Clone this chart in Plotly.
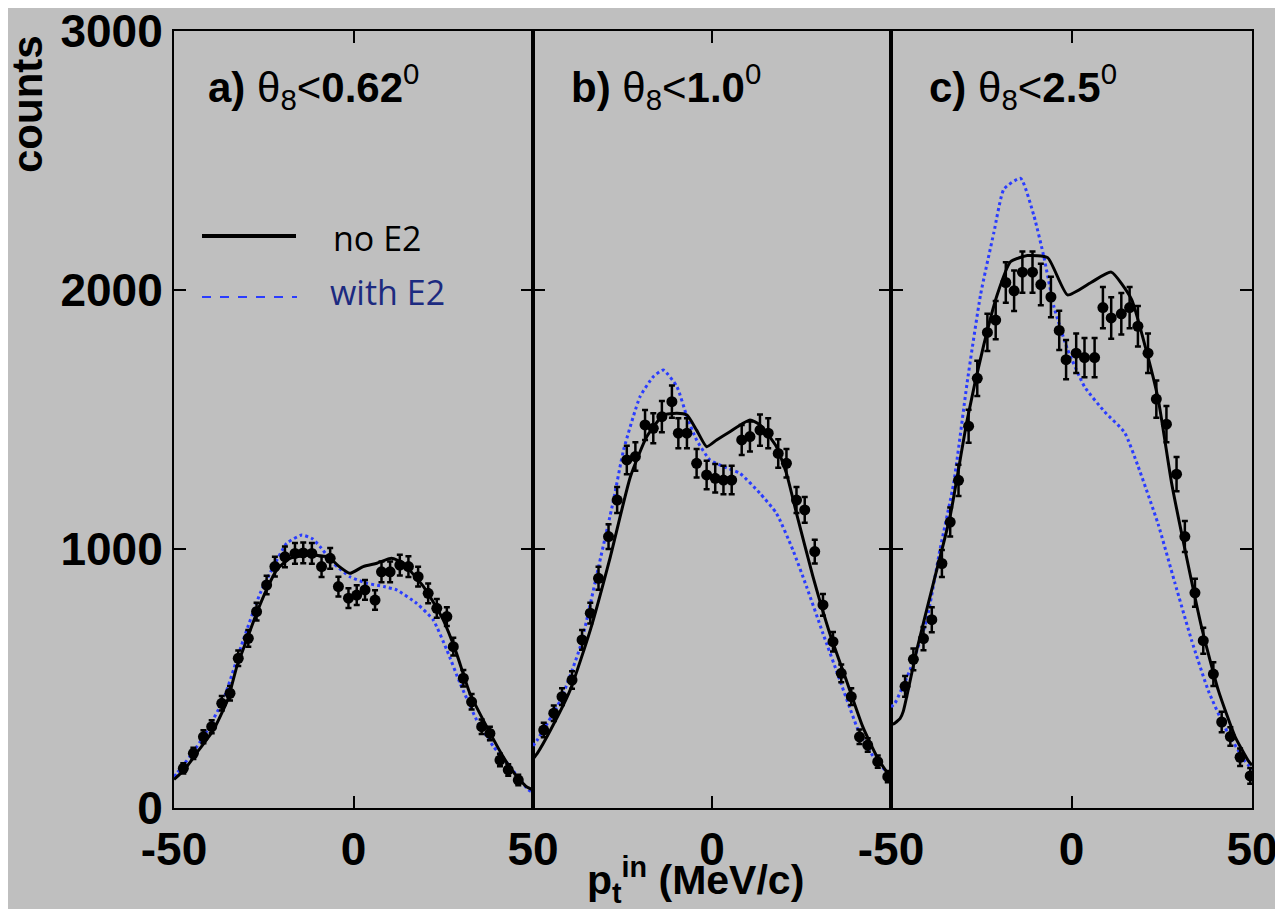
import plotly.graph_objects as go

# ---------------- data ----------------
# panel a) theta_8 < 0.62 deg
a_pt = [-47.4, -44.6, -41.8, -39.5, -36.7, -34.4, -32.1, -29.3, -27.0, -24.2, -21.9, -19.1, -16.3,
        -14.0, -11.6, -8.9, -6.5, -4.2, -1.4, 0.9, 3.2, 6.0, 7.8, 10.2, 12.9, 15.3, 18.0, 20.8,
        23.2, 26.0, 27.8, 30.6, 32.9, 35.7, 38.0, 40.8, 43.1, 45.9]
a_cnt = [153, 211, 275, 314, 404, 443, 578, 655, 758, 861, 932, 970, 983,
         985, 983, 932, 964, 855, 810, 822, 842, 803, 912, 912, 938, 932, 893, 829,
         771, 739, 623, 501, 410, 314, 288, 185, 147, 108]
a_err = [20, 22, 25, 25, 28, 28, 30, 32, 34, 36, 38, 40, 40,
         40, 40, 40, 40, 38, 38, 38, 38, 38, 40, 40, 40, 40, 38, 38,
         36, 36, 34, 32, 30, 28, 26, 24, 22, 20]
a_noE2_pt = [-50, -47, -43, -39, -35, -32.5, -30, -27, -24, -21.4, -17.7, -12, -8, -6.5, -4.2, -1,
             2.7, 6.5, 10.6, 13.9, 16.5, 19.5, 22, 25, 28.7, 32.4, 37.1, 41.7, 45, 48.2, 50]
a_noE2 = [110, 150, 225, 301, 420, 546, 640, 752, 850, 919, 964, 977, 972, 964, 935, 906,
          932, 945, 964, 945, 905, 855, 800, 726, 597, 443, 314, 198, 130, 82, 70]
a_E2_pt = [-50, -49.2, -45.5, -41.8, -36.3, -30.7, -26, -22.3, -18.6, -14.4, -11.5, -9.3, -5.6, -1,
           3.7, 8.4, 12, 17.6, 22.2, 26, 29.7, 34.3, 39, 43.6, 48.7, 50]
a_E2 = [120, 134, 200, 275, 417, 649, 829, 932, 1022, 1054, 1040, 1009, 945, 893,
        868, 855, 842, 790, 726, 610, 481, 340, 237, 160, 70, 60]

# panel b) theta_8 < 1.0 deg
b_pt = [-47.0, -44.2, -41.9, -39.1, -36.3, -34.0, -31.7, -28.9, -26.5, -23.8, -21.4, -18.7, -16.4,
        -14.0, -11.2, -9.4, -7.0, -4.3, -1.5, 0.9, 3.2, 5.5, 8.3, 10.6, 13.4, 15.7, 18.5, 20.8,
        23.6, 25.9, 28.7, 31.0, 33.8, 36.1, 38.9, 41.2, 43.5, 46.3, 49.1]
b_cnt = [301, 366, 430, 494, 649, 752, 887, 1048, 1189, 1344, 1357, 1479, 1466,
         1511, 1569, 1447, 1447, 1331, 1286, 1273, 1266, 1266, 1421, 1434, 1459, 1447, 1369, 1331,
         1189, 1151, 990, 784, 642, 520, 430, 275, 243, 179, 121]
b_err = [28, 30, 32, 34, 38, 40, 44, 48, 50, 55, 55, 58, 58,
         60, 62, 58, 58, 55, 55, 55, 55, 55, 58, 58, 60, 58, 55, 55,
         50, 50, 46, 42, 38, 34, 32, 28, 26, 24, 22]
b_noE2_pt = [-50, -48.8, -45.1, -39.6, -34, -28.4, -22.8, -18.2, -13.6, -9.8, -7, -4.3, -1.5, 1.3,
             5, 10.6, 13.4, 18, 20.8, 23.6, 28.2, 32.9, 37.5, 42.1, 46, 49.1, 50]
b_noE2 = [190, 211, 301, 456, 687, 970, 1279, 1434, 1517, 1524, 1517, 1459, 1395, 1421,
          1453, 1498, 1479, 1395, 1292, 1138, 893, 674, 494, 314, 200, 134, 120]
b_E2_pt = [-50, -48.8, -42.3, -36.8, -32.1, -27.5, -24.7, -20.1, -16.4, -13.6, -9.8, -7, -4.3, -0.6,
           3.2, 7.8, 13.4, 18, 22.6, 26.4, 31, 35.7, 41.2, 45, 49.1, 50]
b_E2 = [240, 263, 417, 623, 906, 1189, 1382, 1588, 1665, 1691, 1627, 1511, 1421, 1344,
        1318, 1292, 1215, 1138, 996, 855, 674, 494, 288, 200, 134, 120]

# panel c) theta_8 < 2.5 deg
c_pt = [-46.1, -43.8, -41.0, -38.7, -35.9, -33.6, -31.3, -28.5, -26.1, -23.3, -21.0, -18.2, -15.9,
        -13.6, -10.8, -8.5, -5.7, -3.4, -1.5, 1.3, 3.6, 6.4, 8.7, 11.0, 13.8, 16.1, 18.4, 21.2,
        23.5, 26.3, 29.1, 31.4, 34.2, 36.5, 39.3, 41.6, 44.0, 46.7, 49.5]
c_cnt = [470, 574, 654, 727, 944, 1104, 1265, 1474, 1659, 1836, 1884, 2029, 1997,
         2069, 2069, 2021, 1973, 1844, 1731, 1756, 1739, 1739, 1932, 1892, 1908, 1932, 1860, 1756,
         1579, 1482, 1289, 1048, 831, 646, 517, 332, 276, 196, 124]
c_err = [40, 42, 45, 48, 52, 56, 60, 64, 68, 72, 74, 78, 78,
         80, 80, 80, 78, 76, 76, 76, 76, 76, 80, 80, 80, 80, 78, 76,
         72, 70, 66, 60, 54, 50, 46, 40, 36, 34, 30]
c_noE2_pt = [-50, -49.4, -47.5, -46.6, -42.8, -38.2, -33.6, -28.9, -24.3, -20.6, -16.9, -12.2, -6.6,
             -1.1, 5.4, 11, 16.6, 20.3, 24, 27.7, 31.4, 36.1, 40.7, 45.3, 49.1, 50]
c_noE2 = [330, 324, 345, 373, 614, 871, 1128, 1498, 1788, 1981, 2109, 2133, 2125,
          1981, 2029, 2069, 1965, 1788, 1579, 1257, 1000, 694, 453, 276, 180, 165]
c_E2_pt = [-50, -48.9, -44.7, -40.1, -36.4, -32.6, -28.9, -25.2, -21.5, -18.7, -14.1, -10.4, -7.6,
           -4.8, -1.1, 3.6, 9.1, 14.7, 18.4, 24, 28.6, 33.3, 37.9, 42.6, 48.1, 50]
c_E2 = [390, 405, 534, 727, 1000, 1257, 1643, 1981, 2222, 2390, 2431, 2286, 2125,
        1932, 1771, 1627, 1531, 1450, 1321, 1096, 871, 646, 453, 308, 180, 150]

panel_labels = ["<b>a)</b> θ<sub>8</sub>&lt;<b>0.62</b><sup>0</sup>",
                "<b>b)</b> θ<sub>8</sub>&lt;<b>1.0</b><sup>0</sup>",
                "<b>c)</b> θ<sub>8</sub>&lt;<b>2.5</b><sup>0</sup>"]
y_ticks = [0, 1000, 2000, 3000]
legend_names = ["no E2", "with E2"]

# ---------------- figure ----------------
# the page body adds an 8px offset; the figure is sized to fill the rest of the window
OFF = 8
W, H = 1283 - OFF, 909 - OFF
BG = "#bfbfbf"
BLUE = "#2a3cff"
NAVY = "#1c2a80"
FONT = "Liberation Sans"


def px(X):
    return (X - OFF) / W


def py(Y):
    return (H - (Y - OFF)) / H


fig = go.Figure()

panels = [
    (a_pt, a_cnt, a_err, a_noE2_pt, a_noE2, a_E2_pt, a_E2),
    (b_pt, b_cnt, b_err, b_noE2_pt, b_noE2, b_E2_pt, b_E2),
    (c_pt, c_cnt, c_err, c_noE2_pt, c_noE2, c_E2_pt, c_E2),
]
for i, (pt, cnt, err, n_pt, n_v, e_pt, e_v) in enumerate(panels):
    xa = "x" if i == 0 else f"x{i+1}"
    ya = "y" if i == 0 else f"y{i+1}"
    fig.add_trace(go.Scatter(x=e_pt, y=e_v, mode="lines", xaxis=xa, yaxis=ya,
                             line=dict(color=BLUE, width=3, dash="dot", shape="spline", smoothing=0.5),
                             showlegend=False))
    fig.add_trace(go.Scatter(x=n_pt, y=n_v, mode="lines", xaxis=xa, yaxis=ya,
                             line=dict(color="black", width=3, shape="spline", smoothing=0.5),
                             showlegend=False))
    fig.add_trace(go.Scatter(x=pt, y=cnt, mode="markers", xaxis=xa, yaxis=ya,
                             marker=dict(color="black", size=11, symbol="circle"),
                             error_y=dict(type="data", array=err, visible=True,
                                          color="black", thickness=2.5, width=3),
                             showlegend=False))

x_domains = [[px(174), px(533)], [px(533), px(891)], [px(891), px(1252)]]
y_domain = [py(808), py(31)]
x_tickvals = [[-50, 0, 50], [0], [-50, 0, 50]]

tickfont = dict(family=FONT, size=46, color="black", weight="bold")
layout = dict(
    width=W, height=H,
    margin=dict(l=0, r=0, t=0, b=0, autoexpand=False),
    paper_bgcolor=BG, plot_bgcolor=BG,
    showlegend=False,
)
for i in range(3):
    xk = "xaxis" if i == 0 else f"xaxis{i+1}"
    yk = "yaxis" if i == 0 else f"yaxis{i+1}"
    ya = "y" if i == 0 else f"y{i+1}"
    xa = "x" if i == 0 else f"x{i+1}"
    layout[xk] = dict(domain=x_domains[i], range=[-50, 50], anchor=ya, automargin=False,
                      showgrid=False, zeroline=False, showline=True, mirror="allticks",
                      linecolor="black", linewidth=2,
                      ticks="inside", ticklen=12, tickwidth=2, tickcolor="black",
                      tickvals=x_tickvals[i], ticktext=[str(v) for v in x_tickvals[i]],
                      tickfont=tickfont, ticklabeloverflow="allow")
    layout[yk] = dict(domain=y_domain, range=[0, 3000], anchor=xa, automargin=False,
                      showgrid=False, zeroline=False, showline=True, mirror="allticks",
                      linecolor="black", linewidth=2,
                      ticks="inside", ticklen=12, tickwidth=2, tickcolor="black",
                      tickvals=y_ticks, ticktext=[str(v) for v in y_ticks],
                      showticklabels=(i == 0), tickfont=tickfont, ticklabeloverflow="allow")
fig.update_layout(**layout)

annotations = []
label_x = [206, 569, 927]
for i, txt in enumerate(panel_labels):
    annotations.append(dict(text=txt, xref="paper", yref="paper",
                            x=px(label_x[i]), y=py(86),
                            xanchor="left", yanchor="middle", showarrow=False,
                            font=dict(family=FONT, size=42, color="black")))
# axis titles
annotations.append(dict(text="<b>counts</b>", xref="paper", yref="paper",
                        x=px(27), y=py(104), textangle=-90,
                        xanchor="center", yanchor="middle", showarrow=False,
                        font=dict(family=FONT, size=42, color="black")))
annotations.append(dict(text="<b>p<sub>t</sub><sup>in</sup> (MeV/c)</b>", xref="paper", yref="paper",
                        x=px(695), y=py(880),
                        xanchor="center", yanchor="middle", showarrow=False,
                        font=dict(family=FONT, size=41, color="black")))
# legend texts
annotations.append(dict(text=legend_names[0], xref="paper", yref="paper",
                        x=px(331), y=py(238), xanchor="left", yanchor="middle",
                        showarrow=False, font=dict(family="Open Sans", size=34, color="black")))
annotations.append(dict(text=legend_names[1], xref="paper", yref="paper",
                        x=px(328), y=py(292), xanchor="left", yanchor="middle",
                        showarrow=False, font=dict(family="Open Sans", size=34, color=NAVY)))
fig.update_layout(annotations=annotations)

# legend key lines
fig.add_shape(type="line", xref="paper", yref="paper",
              x0=px(202), x1=px(296), y0=py(236), y1=py(236),
              line=dict(color="black", width=4))
fig.add_shape(type="line", xref="paper", yref="paper",
              x0=px(202), x1=px(297), y0=py(297), y1=py(297),
              line=dict(color=BLUE, width=2, dash="dash"))

fig.write_html("out.html")
